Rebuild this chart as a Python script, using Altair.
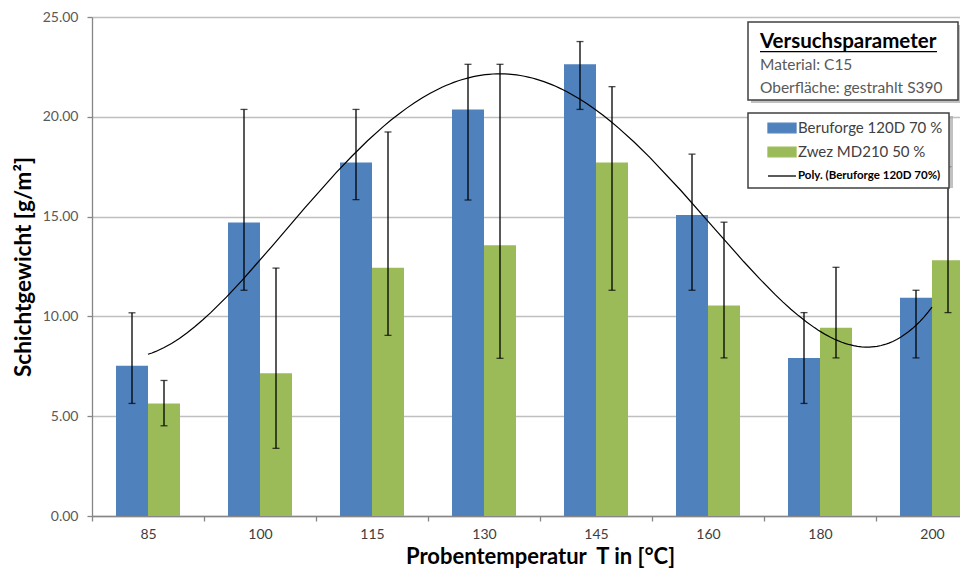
import altair as alt
import pandas as pd

# ---------------- data ----------------
temps = ["85", "100", "115", "130", "145", "160", "180", "200"]
series_names = ["Beruforge 120D 70 %", "Zwez MD210 50 %"]
trend_name = "Poly. (Beruforge 120D 70%)"

beru = [7.53, 14.70, 17.71, 20.36, 22.63, 15.08, 7.92, 10.93]
beru_hi = [10.18, 20.37, 20.37, 22.63, 23.77, 18.13, 10.19, 11.31]
beru_lo = [5.64, 11.31, 15.85, 15.83, 20.37, 11.31, 5.64, 7.92]

zwez = [5.64, 7.15, 12.44, 13.57, 17.71, 10.54, 9.43, 12.81]
zwez_hi = [6.79, 12.42, 19.24, 22.63, 21.51, 14.72, 12.46, 17.50]
zwez_lo = [4.52, 3.39, 9.05, 7.90, 11.31, 7.92, 7.92, 10.19]

info_title = "Versuchsparameter"
info_line1 = "Material: C15"
info_line2 = "Oberfläche: gestrahlt S390"

colors = ["#4F81BD", "#9BBB59", "#000000"]
FONT = "Lato"

df = pd.DataFrame({
    "temp": temps * 2,
    "idx": list(range(1, len(temps) + 1)) * 2,
    "series": [series_names[0]] * len(temps) + [series_names[1]] * len(temps),
    "val": beru + zwez,
    "hi": beru_hi + zwez_hi,
    "lo": beru_lo + zwez_lo,
})

# ---------------- scales ----------------
W, H = 868, 499
BAND = 112
xrange = [0, BAND * len(temps)]
color_scale = alt.Scale(domain=series_names + [trend_name], range=colors)
xscale = alt.Scale(domain=temps, range=xrange, paddingInner=0, paddingOuter=0)
xoff_scale = alt.Scale(domain=series_names, paddingInner=0, paddingOuter=0.75)
yscale = alt.Scale(domain=[0, 25], nice=False, zero=True)

TEST = "datum.value === '" + trend_name + "'"
RECT_PATH = "M-1.75,-0.6H1.75V0.6H-1.75Z"
LINE_PATH = "M-1.75,0H1.75"


def pick(a, b):
    return {"expr": TEST + " ? " + a + " : " + b}


legend = alt.Legend(
    title=None, orient="none", legendX=656, legendY=96, zindex=1,
    fillColor="white", strokeColor="#404040", padding=6, rowPadding=7,
    symbolSize=256,
    symbolType=pick("'" + LINE_PATH + "'", "'" + RECT_PATH + "'"),
    symbolStrokeColor=pick("'#000000'", "'transparent'"),
    symbolStrokeWidth=1.3,
    symbolOffset=19, labelOffset=7,
    labelFont=FONT,
    labelFontSize=pick("11.5", "15"),
    labelFontWeight=pick("'bold'", "'normal'"),
    labelColor=pick("'#000000'", "'#404040'"),
    labelLimit=400,
)

x_enc = alt.X(
    "temp:N", sort=temps, scale=xscale,
    axis=alt.Axis(
        title="Probentemperatur\u00a0 T in [°C]", labelAngle=0, tickBand="extent",
        tickSize=5, labelPadding=6, labelFont=FONT, labelFontSize=14, labelColor="#404040",
        titleFont=FONT, titleFontSize=22, titleFontWeight="bold", titleColor="#000000",
        titlePadding=5, domainColor="#868686", tickColor="#868686", domainWidth=1.3,
        tickWidth=1.3, grid=False,
    ),
)
xoff_enc = alt.XOffset("series:N", scale=xoff_scale, sort=series_names)
y_axis = alt.Axis(
    values=[0, 5, 10, 15, 20, 25], format=".2f", title="Schichtgewicht [g/m²]",
    titleFont=FONT, titleFontSize=22.5, titleFontWeight="bold", titleColor="#000000",
    titlePadding=7, labelFont=FONT, labelFontSize=14, labelColor="#595959",
    labelPadding=9, tickSize=5, tickColor="#868686", domainColor="#868686",
    domainWidth=1.3, tickWidth=1.3, gridColor="#BFBFBF", gridWidth=1.3,
)

base = alt.Chart(df)

bars = base.mark_bar().encode(
    x=x_enc, xOffset=xoff_enc,
    y=alt.Y("val:Q", scale=yscale, axis=y_axis),
    color=alt.Color("series:N", scale=color_scale, legend=legend),
)
err = base.mark_rule(color="black", strokeWidth=1.3).encode(
    x=x_enc, xOffset=xoff_enc, y=alt.Y("lo:Q", scale=yscale), y2="hi:Q"
)
cap_hi = base.mark_tick(color="black", thickness=1.3, size=7).encode(
    x=x_enc, xOffset=xoff_enc, y=alt.Y("hi:Q", scale=yscale)
)
cap_lo = base.mark_tick(color="black", thickness=1.3, size=7).encode(
    x=x_enc, xOffset=xoff_enc, y=alt.Y("lo:Q", scale=yscale)
)
bar_layer = alt.layer(bars, err, cap_hi, cap_lo)

trend = (
    base.transform_filter(alt.datum.series == series_names[0])
    .transform_regression("idx", "val", method="poly", order=4, extent=[1, len(temps)])
    .transform_calculate(series="'" + trend_name + "'")
    .mark_line(strokeWidth=1.2)
    .encode(
        x=alt.X("idx:Q", scale=alt.Scale(domain=[0.5, len(temps) + 0.5], range=xrange,
                                          nice=False, zero=False), axis=None),
        y=alt.Y("val:Q", scale=yscale),
        color=alt.Color("series:N", scale=color_scale, legend=legend),
    )
)

one = alt.Chart(pd.DataFrame({"k": [0]}))
legend_shadow = one.mark_rect(fill="#A6A6A6", opacity=0.7).encode(
    x=alt.value(659), x2=alt.value(861), y=alt.value(99), y2=alt.value(171)
)
box_shadow = one.mark_rect(fill="#A6A6A6", opacity=0.7).encode(
    x=alt.value(659), x2=alt.value(869), y=alt.value(8), y2=alt.value(86)
)
box = one.mark_rect(fill="white", stroke="#404040", strokeWidth=1.5).encode(
    x=alt.value(656), x2=alt.value(866), y=alt.value(5), y2=alt.value(83)
)
box_title = alt.Chart(pd.DataFrame({"t": [info_title]})).mark_text(
    font=FONT, fontSize=20.5, fontWeight="bold", color="#000000", align="left",
    baseline="alphabetic"
).encode(text="t:N", x=alt.value(668), y=alt.value(31))
underline = one.mark_rule(color="#000000", strokeWidth=1.3).encode(
    x=alt.value(668), x2=alt.value(845), y=alt.value(34.7)
)
box_line1 = alt.Chart(pd.DataFrame({"t": [info_line1]})).mark_text(
    font=FONT, fontSize=15.5, color="#595959", align="left", baseline="alphabetic"
).encode(text="t:N", x=alt.value(668), y=alt.value(53))
box_line2 = alt.Chart(pd.DataFrame({"t": [info_line2]})).mark_text(
    font=FONT, fontSize=15.5, color="#595959", align="left", baseline="alphabetic"
).encode(text="t:N", x=alt.value(668), y=alt.value(76))

chart = (
    alt.layer(bar_layer, trend)
    .resolve_scale(x="independent")
)
chart = (
    alt.layer(chart, legend_shadow, box_shadow, box, box_title, underline,
              box_line1, box_line2)
    .properties(
        width=W, height=H, background="white",
        autosize=alt.AutoSizeParams(type="none"),
        padding={"left": 84, "top": 9, "right": 0, "bottom": 55},
    )
    .configure_view(strokeWidth=0)
    .configure_legend(strokeWidth=1.5)
)

chart.save("out.html", embed_options={"renderer": "svg", "actions": False})
